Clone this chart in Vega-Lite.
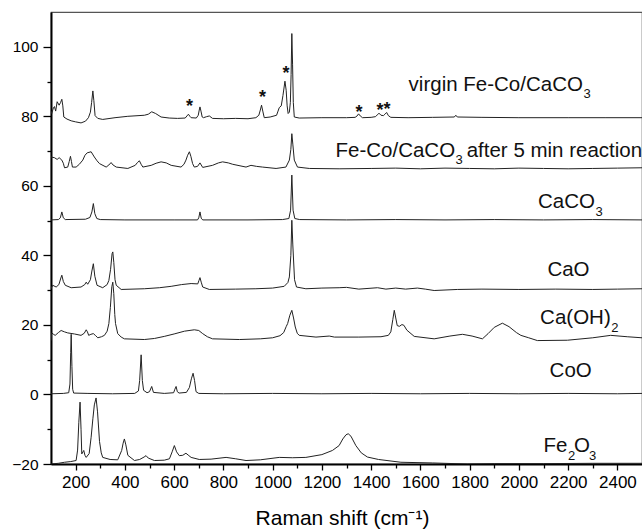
{
"$schema": "https://vega.github.io/schema/vega-lite/v6.json",
"width": 591, "height": 452,
"autosize": {"type": "none"},
"padding": {"left": 51, "top": 12, "right": 0, "bottom": 65},
"background": "white",
"config": {"view": {"stroke": "#555", "strokeWidth": 1.2}, "font": "Liberation Sans",
  "axis": {"grid": false, "domainColor": "black", "tickColor": "black", "labelColor": "black", "labelFont": "Liberation Sans", "titleFont": "Liberation Sans", "titleColor": "black", "titleFontWeight": "normal"}},
"datasets": {
"spectra": [
{"s":"a","x":100,"y":81.5},{"s":"a","x":103,"y":80.8},{"s":"a","x":110,"y":82.5},{"s":"a","x":114,"y":82.8},{"s":"a","x":119,"y":81.5},{"s":"a","x":125,"y":84.2},{"s":"a","x":133,"y":83.2},{"s":"a","x":139,"y":84.0},{"s":"a","x":144,"y":84.9},{"s":"a","x":148,"y":83},{"s":"a","x":152,"y":79.8},{"s":"a","x":165,"y":79.2},{"s":"a","x":182,"y":78.7},{"s":"a","x":200,"y":78.4},{"s":"a","x":222,"y":78.1},{"s":"a","x":240,"y":78.6},{"s":"a","x":252,"y":79.6},{"s":"a","x":260,"y":81.2},{"s":"a","x":265,"y":84},{"s":"a","x":270,"y":87.3},{"s":"a","x":274,"y":84.5},{"s":"a","x":279,"y":80.2},{"s":"a","x":290,"y":79.4},{"s":"a","x":310,"y":79.1},{"s":"a","x":360,"y":79.6},{"s":"a","x":412,"y":80.0},{"s":"a","x":479,"y":80.3},{"s":"a","x":495,"y":80.6},{"s":"a","x":509,"y":81.3},{"s":"a","x":525,"y":80.8},{"s":"a","x":547,"y":79.8},{"s":"a","x":580,"y":79.5},{"s":"a","x":614,"y":79.4},{"s":"a","x":645,"y":79.5},{"s":"a","x":652,"y":80.1},{"s":"a","x":658,"y":80.6},{"s":"a","x":664,"y":80.0},{"s":"a","x":669,"y":79.6},{"s":"a","x":690,"y":79.5},{"s":"a","x":698,"y":80.3},{"s":"a","x":702,"y":81.8},{"s":"a","x":705,"y":82.7},{"s":"a","x":709,"y":81.5},{"s":"a","x":714,"y":79.8},{"s":"a","x":719,"y":79.6},{"s":"a","x":732,"y":79.9},{"s":"a","x":743,"y":80.1},{"s":"a","x":756,"y":79.4},{"s":"a","x":800,"y":79.3},{"s":"a","x":850,"y":79.4},{"s":"a","x":900,"y":79.3},{"s":"a","x":932,"y":79.6},{"s":"a","x":944,"y":80.3},{"s":"a","x":950,"y":81.8},{"s":"a","x":955,"y":83.2},{"s":"a","x":960,"y":81.5},{"s":"a","x":966,"y":79.6},{"s":"a","x":990,"y":79.8},{"s":"a","x":1016,"y":80.3},{"s":"a","x":1022,"y":81.5},{"s":"a","x":1027,"y":82.5},{"s":"a","x":1035,"y":83},{"s":"a","x":1042,"y":86},{"s":"a","x":1050,"y":90.1},{"s":"a","x":1055,"y":87.5},{"s":"a","x":1059,"y":83},{"s":"a","x":1063,"y":80.8},{"s":"a","x":1068,"y":81.2},{"s":"a","x":1072,"y":84},{"s":"a","x":1075,"y":92},{"s":"a","x":1078,"y":103.8},{"s":"a","x":1081,"y":95},{"s":"a","x":1084,"y":84},{"s":"a","x":1088,"y":79.8},{"s":"a","x":1108,"y":79.5},{"s":"a","x":1200,"y":79.6},{"s":"a","x":1300,"y":79.6},{"s":"a","x":1335,"y":79.7},{"s":"a","x":1343,"y":80.1},{"s":"a","x":1349,"y":80.7},{"s":"a","x":1356,"y":80.1},{"s":"a","x":1365,"y":79.6},{"s":"a","x":1400,"y":79.7},{"s":"a","x":1418,"y":79.9},{"s":"a","x":1425,"y":80.4},{"s":"a","x":1432,"y":80.9},{"s":"a","x":1440,"y":80.3},{"s":"a","x":1450,"y":80.2},{"s":"a","x":1456,"y":80.6},{"s":"a","x":1463,"y":81.1},{"s":"a","x":1470,"y":80.2},{"s":"a","x":1480,"y":79.7},{"s":"a","x":1550,"y":79.6},{"s":"a","x":1650,"y":79.7},{"s":"a","x":1738,"y":79.8},{"s":"a","x":1744,"y":80.3},{"s":"a","x":1750,"y":79.8},{"s":"a","x":1850,"y":79.7},{"s":"a","x":2000,"y":79.6},{"s":"a","x":2200,"y":79.6},{"s":"a","x":2350,"y":79.6},{"s":"a","x":2500,"y":79.6},
{"s":"b","x":100,"y":68.3},{"s":"b","x":114,"y":68.1},{"s":"b","x":125,"y":67.6},{"s":"b","x":133,"y":68.1},{"s":"b","x":144,"y":67.4},{"s":"b","x":150,"y":66.5},{"s":"b","x":155,"y":65.2},{"s":"b","x":168,"y":65.4},{"s":"b","x":174,"y":67},{"s":"b","x":179,"y":68.5},{"s":"b","x":183,"y":67},{"s":"b","x":187,"y":65.4},{"s":"b","x":202,"y":65.4},{"s":"b","x":215,"y":66.2},{"s":"b","x":229,"y":67.4},{"s":"b","x":238,"y":68.8},{"s":"b","x":247,"y":69.5},{"s":"b","x":263,"y":69.8},{"s":"b","x":276,"y":68.3},{"s":"b","x":287,"y":67.2},{"s":"b","x":297,"y":66.4},{"s":"b","x":324,"y":65.4},{"s":"b","x":335,"y":66.0},{"s":"b","x":344,"y":66.7},{"s":"b","x":352,"y":66.0},{"s":"b","x":365,"y":65.4},{"s":"b","x":412,"y":65.0},{"s":"b","x":442,"y":65.9},{"s":"b","x":451,"y":66.7},{"s":"b","x":459,"y":67.2},{"s":"b","x":466,"y":66.2},{"s":"b","x":473,"y":65.4},{"s":"b","x":507,"y":65.9},{"s":"b","x":527,"y":66.5},{"s":"b","x":547,"y":66.9},{"s":"b","x":568,"y":66.6},{"s":"b","x":588,"y":65.9},{"s":"b","x":628,"y":65.4},{"s":"b","x":640,"y":66.2},{"s":"b","x":648,"y":67.4},{"s":"b","x":655,"y":68.8},{"s":"b","x":662,"y":69.8},{"s":"b","x":668,"y":68.5},{"s":"b","x":675,"y":66.4},{"s":"b","x":682,"y":65.4},{"s":"b","x":695,"y":65.6},{"s":"b","x":705,"y":66.6},{"s":"b","x":716,"y":65.3},{"s":"b","x":756,"y":65.9},{"s":"b","x":780,"y":66.6},{"s":"b","x":797,"y":66.9},{"s":"b","x":820,"y":66.6},{"s":"b","x":838,"y":66.2},{"s":"b","x":892,"y":65.4},{"s":"b","x":912,"y":65.9},{"s":"b","x":935,"y":65.6},{"s":"b","x":959,"y":65.4},{"s":"b","x":1014,"y":65.0},{"s":"b","x":1054,"y":65.4},{"s":"b","x":1068,"y":67.4},{"s":"b","x":1074,"y":70.5},{"s":"b","x":1078,"y":75.0},{"s":"b","x":1082,"y":72},{"s":"b","x":1088,"y":67.4},{"s":"b","x":1101,"y":65.4},{"s":"b","x":1149,"y":65.0},{"s":"b","x":1270,"y":64.9},{"s":"b","x":1400,"y":65.0},{"s":"b","x":1500,"y":65.1},{"s":"b","x":1600,"y":64.9},{"s":"b","x":1700,"y":65.1},{"s":"b","x":1800,"y":65.0},{"s":"b","x":1900,"y":64.9},{"s":"b","x":2000,"y":65.1},{"s":"b","x":2100,"y":65.0},{"s":"b","x":2200,"y":64.9},{"s":"b","x":2300,"y":65.0},{"s":"b","x":2400,"y":65.1},{"s":"b","x":2500,"y":65.2},
{"s":"c","x":100,"y":50.2},{"s":"c","x":130,"y":50.3},{"s":"c","x":138,"y":50.8},{"s":"c","x":144,"y":52.5},{"s":"c","x":150,"y":50.8},{"s":"c","x":158,"y":50.3},{"s":"c","x":240,"y":50.4},{"s":"c","x":258,"y":50.9},{"s":"c","x":266,"y":52.5},{"s":"c","x":272,"y":54.9},{"s":"c","x":278,"y":52},{"s":"c","x":286,"y":50.6},{"s":"c","x":300,"y":50.3},{"s":"c","x":400,"y":50.2},{"s":"c","x":600,"y":50.2},{"s":"c","x":695,"y":50.2},{"s":"c","x":700,"y":50.8},{"s":"c","x":705,"y":52.5},{"s":"c","x":710,"y":50.7},{"s":"c","x":716,"y":50.2},{"s":"c","x":900,"y":50.2},{"s":"c","x":1040,"y":50.3},{"s":"c","x":1066,"y":50.6},{"s":"c","x":1073,"y":53},{"s":"c","x":1078,"y":63.1},{"s":"c","x":1083,"y":53},{"s":"c","x":1090,"y":50.6},{"s":"c","x":1110,"y":50.3},{"s":"c","x":1300,"y":50.2},{"s":"c","x":1500,"y":50.3},{"s":"c","x":1700,"y":50.2},{"s":"c","x":1900,"y":50.3},{"s":"c","x":2100,"y":50.2},{"s":"c","x":2300,"y":50.3},{"s":"c","x":2500,"y":50.2},
{"s":"d","x":100,"y":30.4},{"s":"d","x":107,"y":31.4},{"s":"d","x":121,"y":30.9},{"s":"d","x":132,"y":31.6},{"s":"d","x":140,"y":33.5},{"s":"d","x":144,"y":34.3},{"s":"d","x":150,"y":32.5},{"s":"d","x":158,"y":31.4},{"s":"d","x":182,"y":30.7},{"s":"d","x":222,"y":30.9},{"s":"d","x":237,"y":31.6},{"s":"d","x":243,"y":32.3},{"s":"d","x":249,"y":31.7},{"s":"d","x":260,"y":33},{"s":"d","x":266,"y":35.5},{"s":"d","x":272,"y":37.6},{"s":"d","x":278,"y":34},{"s":"d","x":287,"y":31.4},{"s":"d","x":310,"y":30.7},{"s":"d","x":328,"y":31.6},{"s":"d","x":335,"y":32.8},{"s":"d","x":342,"y":36},{"s":"d","x":348,"y":40.5},{"s":"d","x":351,"y":41.0},{"s":"d","x":355,"y":38},{"s":"d","x":360,"y":33},{"s":"d","x":365,"y":31.4},{"s":"d","x":385,"y":30.2},{"s":"d","x":479,"y":30.4},{"s":"d","x":540,"y":30.7},{"s":"d","x":588,"y":31.1},{"s":"d","x":630,"y":31.6},{"s":"d","x":669,"y":31.9},{"s":"d","x":696,"y":31.8},{"s":"d","x":701,"y":32.8},{"s":"d","x":705,"y":33.6},{"s":"d","x":710,"y":32.3},{"s":"d","x":716,"y":30.9},{"s":"d","x":743,"y":30.2},{"s":"d","x":850,"y":30.3},{"s":"d","x":932,"y":30.4},{"s":"d","x":1000,"y":30.6},{"s":"d","x":1047,"y":31.1},{"s":"d","x":1062,"y":32.2},{"s":"d","x":1068,"y":33.8},{"s":"d","x":1074,"y":40},{"s":"d","x":1078,"y":50.1},{"s":"d","x":1082,"y":43},{"s":"d","x":1089,"y":33},{"s":"d","x":1097,"y":30.9},{"s":"d","x":1135,"y":30.4},{"s":"d","x":1200,"y":30.6},{"s":"d","x":1270,"y":30.7},{"s":"d","x":1300,"y":30.8},{"s":"d","x":1350,"y":30.3},{"s":"d","x":1426,"y":30.7},{"s":"d","x":1460,"y":30.3},{"s":"d","x":1500,"y":30.6},{"s":"d","x":1540,"y":30.3},{"s":"d","x":1588,"y":30.6},{"s":"d","x":1620,"y":30.3},{"s":"d","x":1656,"y":29.9},{"s":"d","x":1750,"y":30.2},{"s":"d","x":1850,"y":30.3},{"s":"d","x":2000,"y":30.2},{"s":"d","x":2150,"y":30.3},{"s":"d","x":2300,"y":30.2},{"s":"d","x":2400,"y":30.3},{"s":"d","x":2500,"y":30.4},
{"s":"e","x":100,"y":15.5},{"s":"e","x":103,"y":17.7},{"s":"e","x":110,"y":17.3},{"s":"e","x":117,"y":17.0},{"s":"e","x":130,"y":17.8},{"s":"e","x":141,"y":18.4},{"s":"e","x":155,"y":18.0},{"s":"e","x":168,"y":17.7},{"s":"e","x":195,"y":17.4},{"s":"e","x":222,"y":17.0},{"s":"e","x":235,"y":17.6},{"s":"e","x":243,"y":18.6},{"s":"e","x":248,"y":18.0},{"s":"e","x":253,"y":17.0},{"s":"e","x":262,"y":17.3},{"s":"e","x":272,"y":17.5},{"s":"e","x":280,"y":17.0},{"s":"e","x":290,"y":16.3},{"s":"e","x":305,"y":16.6},{"s":"e","x":317,"y":17.0},{"s":"e","x":328,"y":18.2},{"s":"e","x":335,"y":20.4},{"s":"e","x":341,"y":25},{"s":"e","x":347,"y":31},{"s":"e","x":351,"y":32.3},{"s":"e","x":355,"y":29},{"s":"e","x":359,"y":23},{"s":"e","x":362,"y":20.4},{"s":"e","x":371,"y":17.5},{"s":"e","x":385,"y":16.5},{"s":"e","x":398,"y":16.0},{"s":"e","x":479,"y":15.8},{"s":"e","x":520,"y":16.1},{"s":"e","x":560,"y":16.7},{"s":"e","x":600,"y":17.4},{"s":"e","x":642,"y":18.2},{"s":"e","x":682,"y":18.6},{"s":"e","x":700,"y":18.4},{"s":"e","x":716,"y":17.5},{"s":"e","x":735,"y":16.6},{"s":"e","x":756,"y":16.0},{"s":"e","x":865,"y":15.8},{"s":"e","x":950,"y":16.0},{"s":"e","x":1000,"y":16.3},{"s":"e","x":1030,"y":16.9},{"s":"e","x":1045,"y":17.8},{"s":"e","x":1055,"y":19.5},{"s":"e","x":1061,"y":20.4},{"s":"e","x":1070,"y":22.8},{"s":"e","x":1078,"y":24.2},{"s":"e","x":1085,"y":22},{"s":"e","x":1092,"y":19.4},{"s":"e","x":1100,"y":17.6},{"s":"e","x":1108,"y":17.0},{"s":"e","x":1176,"y":16.5},{"s":"e","x":1230,"y":16.8},{"s":"e","x":1251,"y":16.5},{"s":"e","x":1350,"y":16.5},{"s":"e","x":1440,"y":16.6},{"s":"e","x":1470,"y":17.0},{"s":"e","x":1480,"y":18},{"s":"e","x":1488,"y":21.5},{"s":"e","x":1494,"y":24.2},{"s":"e","x":1500,"y":22},{"s":"e","x":1506,"y":19.8},{"s":"e","x":1515,"y":19.6},{"s":"e","x":1525,"y":20.1},{"s":"e","x":1533,"y":19.9},{"s":"e","x":1545,"y":18.5},{"s":"e","x":1575,"y":16.7},{"s":"e","x":1656,"y":16.0},{"s":"e","x":1720,"y":16.8},{"s":"e","x":1771,"y":17.3},{"s":"e","x":1810,"y":16.8},{"s":"e","x":1852,"y":16.0},{"s":"e","x":1875,"y":17.5},{"s":"e","x":1900,"y":19.3},{"s":"e","x":1933,"y":20.5},{"s":"e","x":1960,"y":19.5},{"s":"e","x":1990,"y":17.8},{"s":"e","x":2008,"y":17.0},{"s":"e","x":2040,"y":16.3},{"s":"e","x":2075,"y":15.5},{"s":"e","x":2197,"y":15.6},{"s":"e","x":2300,"y":16.3},{"s":"e","x":2373,"y":17.0},{"s":"e","x":2440,"y":16.6},{"s":"e","x":2500,"y":16.3},
{"s":"f","x":100,"y":0.2},{"s":"f","x":150,"y":0.3},{"s":"f","x":172,"y":0.5},{"s":"f","x":177,"y":3},{"s":"f","x":180,"y":12},{"s":"f","x":182,"y":17.3},{"s":"f","x":185,"y":8},{"s":"f","x":188,"y":1.5},{"s":"f","x":192,"y":0.4},{"s":"f","x":250,"y":0.3},{"s":"f","x":350,"y":0.2},{"s":"f","x":440,"y":0.3},{"s":"f","x":455,"y":1},{"s":"f","x":460,"y":4},{"s":"f","x":466,"y":11.4},{"s":"f","x":471,"y":4},{"s":"f","x":476,"y":1.2},{"s":"f","x":490,"y":0.5},{"s":"f","x":500,"y":0.8},{"s":"f","x":509,"y":2.3},{"s":"f","x":516,"y":0.6},{"s":"f","x":560,"y":0.3},{"s":"f","x":598,"y":0.5},{"s":"f","x":603,"y":1.5},{"s":"f","x":608,"y":2.3},{"s":"f","x":613,"y":0.8},{"s":"f","x":620,"y":0.4},{"s":"f","x":650,"y":0.6},{"s":"f","x":662,"y":2},{"s":"f","x":670,"y":4.5},{"s":"f","x":677,"y":6.1},{"s":"f","x":683,"y":4},{"s":"f","x":689,"y":0.8},{"s":"f","x":700,"y":0.3},{"s":"f","x":800,"y":0.2},{"s":"f","x":1000,"y":0.3},{"s":"f","x":1200,"y":0.2},{"s":"f","x":1400,"y":0.3},{"s":"f","x":1600,"y":0.2},{"s":"f","x":1800,"y":0.3},{"s":"f","x":2000,"y":0.2},{"s":"f","x":2200,"y":0.3},{"s":"f","x":2400,"y":0.2},{"s":"f","x":2500,"y":0.3},
{"s":"g","x":100,"y":-20},{"s":"g","x":130,"y":-19.8},{"s":"g","x":155,"y":-19.5},{"s":"g","x":180,"y":-19.3},{"s":"g","x":202,"y":-19},{"s":"g","x":208,"y":-16},{"s":"g","x":213,"y":-8},{"s":"g","x":218,"y":-2.2},{"s":"g","x":222,"y":-10},{"s":"g","x":225,"y":-17.1},{"s":"g","x":230,"y":-16.5},{"s":"g","x":233,"y":-16.1},{"s":"g","x":238,"y":-17.5},{"s":"g","x":243,"y":-18.1},{"s":"g","x":255,"y":-17},{"s":"g","x":263,"y":-12.3},{"s":"g","x":270,"y":-7},{"s":"g","x":276,"y":-3},{"s":"g","x":283,"y":-1.0},{"s":"g","x":289,"y":-5},{"s":"g","x":297,"y":-13.5},{"s":"g","x":304,"y":-16.8},{"s":"g","x":310,"y":-18.1},{"s":"g","x":340,"y":-18.7},{"s":"g","x":371,"y":-18.8},{"s":"g","x":387,"y":-16.1},{"s":"g","x":393,"y":-14},{"s":"g","x":398,"y":-12.8},{"s":"g","x":404,"y":-14.5},{"s":"g","x":412,"y":-17.5},{"s":"g","x":439,"y":-19},{"s":"g","x":460,"y":-18.7},{"s":"g","x":478,"y":-18},{"s":"g","x":486,"y":-17.6},{"s":"g","x":495,"y":-18.3},{"s":"g","x":520,"y":-19},{"s":"g","x":560,"y":-18.9},{"s":"g","x":581,"y":-18.5},{"s":"g","x":592,"y":-16.5},{"s":"g","x":601,"y":-14.7},{"s":"g","x":610,"y":-16.5},{"s":"g","x":621,"y":-17.6},{"s":"g","x":635,"y":-17.5},{"s":"g","x":648,"y":-16.9},{"s":"g","x":660,"y":-17.6},{"s":"g","x":669,"y":-18.1},{"s":"g","x":702,"y":-18.7},{"s":"g","x":750,"y":-18.6},{"s":"g","x":811,"y":-18.1},{"s":"g","x":850,"y":-18.5},{"s":"g","x":892,"y":-19},{"s":"g","x":950,"y":-18.8},{"s":"g","x":1027,"y":-18.1},{"s":"g","x":1080,"y":-18.2},{"s":"g","x":1135,"y":-18.1},{"s":"g","x":1200,"y":-17.3},{"s":"g","x":1243,"y":-16.1},{"s":"g","x":1270,"y":-14.7},{"s":"g","x":1285,"y":-12.8},{"s":"g","x":1298,"y":-11.6},{"s":"g","x":1307,"y":-11.3},{"s":"g","x":1318,"y":-12},{"s":"g","x":1338,"y":-14.7},{"s":"g","x":1360,"y":-16.8},{"s":"g","x":1385,"y":-18.0},{"s":"g","x":1430,"y":-18.7},{"s":"g","x":1521,"y":-19.5},{"s":"g","x":1650,"y":-19.7},{"s":"g","x":1791,"y":-20},{"s":"g","x":1900,"y":-19.9},{"s":"g","x":2100,"y":-19.9},{"s":"g","x":2300,"y":-19.8},{"s":"g","x":2500,"y":-19.8}
],
"stars": [
{"t":"*","x":662,"y":83.7},{"t":"*","x":959,"y":86.3},{"t":"*","x":1054,"y":93.3},{"t":"*","x":1351,"y":82.2},{"t":"*","x":1436,"y":82.6},{"t":"*","x":1464,"y":83.0}
],
"labelsRight": [
{"t":"virgin Fe-Co/CaCO","x":2260,"y":87.3},{"t":"Fe-Co/CaCO","x":1741,"y":68.3},{"t":"CaCO","x":2309,"y":53.5},{"t":"CaO","x":2287,"y":34.0},{"t":"Ca(OH)","x":2373,"y":20.2},{"t":"CoO","x":2296,"y":5.0},{"t":"Fe","x":2197,"y":-16.6}
],
"labelsLeft": [
{"t":"after 5 min reaction","x":1788,"y":68.3},{"t":"O","x":2224,"y":-16.6}
],
"subs": [
{"t":"3","x":2262,"y":85.2},{"t":"3","x":1743,"y":66.2},{"t":"3","x":2311,"y":51.3},{"t":"2","x":2375,"y":17.9},{"t":"2","x":2199,"y":-18.8},{"t":"3","x":2285,"y":-18.8}
]
},
"layer": [
{"data": {"name": "spectra"},
 "mark": {"type": "line", "stroke": "#222", "strokeWidth": 1, "clip": true},
 "encoding": {
  "x": {"field": "x", "type": "quantitative", "scale": {"domain": [100, 2500], "nice": false, "zero": false},
   "axis": {"orient": "bottom", "values": [200,400,600,800,1000,1200,1400,1600,1800,2000,2200,2400], "format": "d", "tickSize": 6, "tickWidth": 1.3, "domainWidth": 2, "labelFontSize": 17, "labelPadding": 4, "labelFlush": false, "title": "Raman shift (cm⁻¹)", "titleFontSize": 21, "titleBaseline": "alphabetic", "titleY": 60, "titleX": 291}},
  "y": {"field": "y", "type": "quantitative", "scale": {"domain": [-20, 110], "nice": false, "zero": false},
   "axis": {"orient": "left", "values": [-20,0,20,40,60,80,100], "tickSize": 8, "tickWidth": 1.3, "domainWidth": 2, "labelFontSize": 15.5, "labelPadding": 5, "title": null}},
  "detail": {"field": "s", "type": "nominal"}
 }},
{"data": {"name": "stars"},
 "mark": {"type": "text", "fontSize": 18, "fontWeight": "bold", "baseline": "middle", "align": "center", "dy": 4, "color": "#111"},
 "encoding": {
  "x": {"field": "x", "type": "quantitative", "scale": {"domain": [100, 2500], "nice": false, "zero": false},
   "axis": {"orient": "bottom", "values": [300,500,700,900,1100,1300,1500,1700,1900,2100,2300], "tickSize": 4, "tickWidth": 1.3, "domain": false, "labels": false, "title": null}},
  "y": {"field": "y", "type": "quantitative", "scale": {"domain": [-20, 110], "nice": false, "zero": false},
   "axis": {"orient": "left", "values": [-10,10,30,50,70,90], "tickSize": 4, "tickWidth": 1.3, "domain": false, "labels": false, "title": null}},
  "text": {"field": "t"}
 }},
{"data": {"name": "labelsRight"},
 "mark": {"type": "text", "fontSize": 20.5, "baseline": "alphabetic", "align": "right", "color": "#111"},
 "encoding": {
  "x": {"field": "x", "type": "quantitative", "scale": {"domain": [100, 2500], "nice": false, "zero": false}, "axis": null},
  "y": {"field": "y", "type": "quantitative", "scale": {"domain": [-20, 110], "nice": false, "zero": false}, "axis": null},
  "text": {"field": "t"}
 }},
{"data": {"name": "labelsLeft"},
 "mark": {"type": "text", "fontSize": 20.5, "baseline": "alphabetic", "align": "left", "color": "#111"},
 "encoding": {
  "x": {"field": "x", "type": "quantitative", "scale": {"domain": [100, 2500], "nice": false, "zero": false}, "axis": null},
  "y": {"field": "y", "type": "quantitative", "scale": {"domain": [-20, 110], "nice": false, "zero": false}, "axis": null},
  "text": {"field": "t"}
 }},
{"data": {"name": "subs"},
 "mark": {"type": "text", "fontSize": 13, "baseline": "alphabetic", "align": "left", "color": "#111"},
 "encoding": {
  "x": {"field": "x", "type": "quantitative", "scale": {"domain": [100, 2500], "nice": false, "zero": false}, "axis": null},
  "y": {"field": "y", "type": "quantitative", "scale": {"domain": [-20, 110], "nice": false, "zero": false}, "axis": null},
  "text": {"field": "t"}
 }}
],
"resolve": {"axis": {"x": "independent", "y": "independent"}}
}
